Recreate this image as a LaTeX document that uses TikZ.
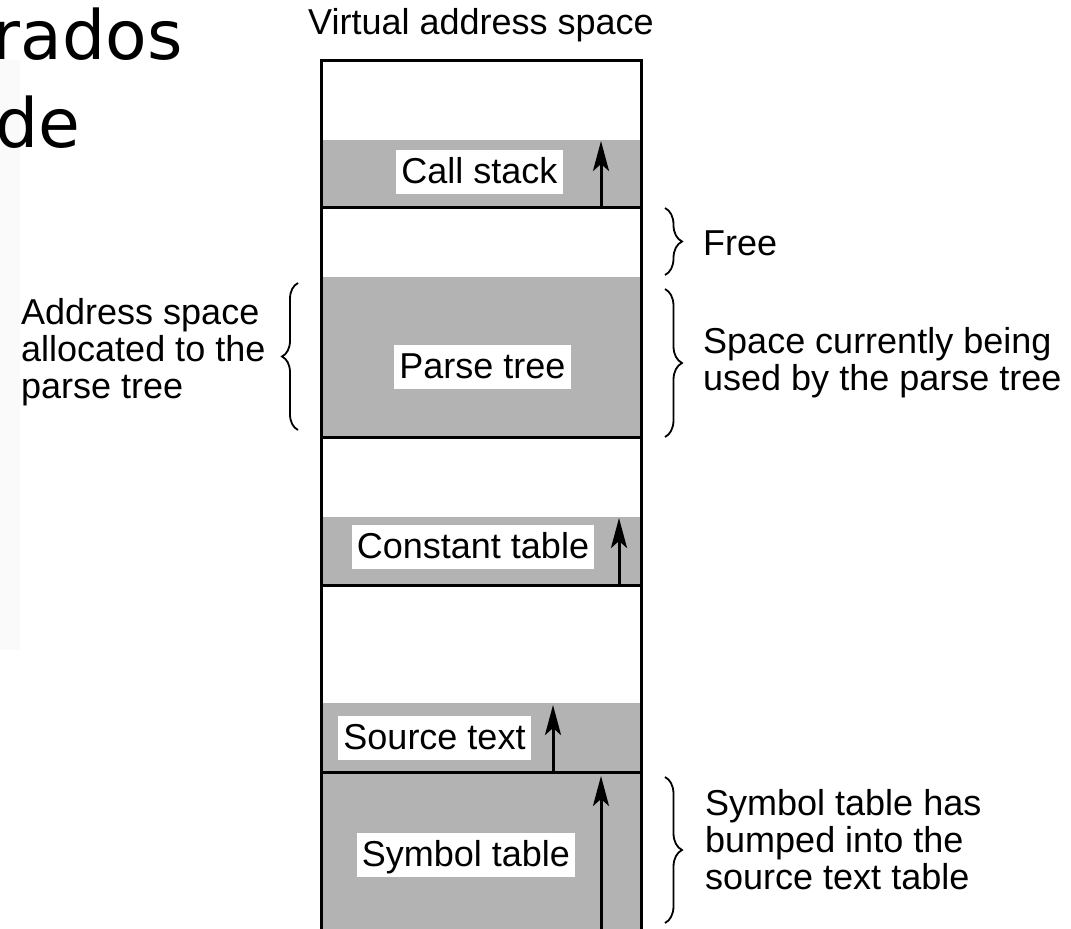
\documentclass[tikz,border=0pt]{standalone}
\usepackage{fontspec}
\setmainfont{Liberation Sans}
\newfontfamily\slidefont{DejaVu Sans}
\usetikzlibrary{arrows.meta,decorations.pathreplacing}
\definecolor{memgray}{RGB}{179,179,179}
\definecolor{stripgray}{RGB}{250,250,250}
\begin{document}
\begin{tikzpicture}[x=1pt,y=-1pt,
  lbl/.style={font=\fontsize{36}{37}\selectfont, inner sep=0pt},
  seglabel/.style={font=\fontsize{36}{37}\selectfont, fill=white, inner xsep=5pt, inner ysep=4.5pt, text height=29pt, text depth=6pt},
  frameline/.style={line width=3pt},
  growarrow/.style={line width=3pt, -{Stealth[length=30pt,width=16pt,inset=7pt]}},
  bracer/.style={decorate, decoration={brace, amplitude=17pt}, line width=1.8pt},
  slidetext/.style={font=\slidefont\fontsize{68}{85}\selectfont, inner sep=0pt, anchor=base east},
]
\useasboundingbox (0,0) rectangle (1071,929);
\fill[stripgray] (0,60) rectangle (20,650);

% slide text (cut off)
\node[slidetext] (sl1) at (183,59) {rados};
\node[slidetext] (sl2) at (81,147) {de};

% title
\node[lbl] (title) at (481,25) {Virtual address space};

% gray segments
\fill[memgray] (321,140) rectangle (641,207);
\fill[memgray] (321,277) rectangle (641,437);
\fill[memgray] (321,517) rectangle (641,585);
\fill[memgray] (321,703) rectangle (641,772);
\fill[memgray] (321,772) rectangle (641,929);

% frame
\draw[frameline] (321,929) -- (321,60) -- (641,60) -- (641,929);
\draw[frameline] (321,207) -- (641,207);
\draw[frameline] (321,437) -- (641,437);
\draw[frameline] (321,585) -- (641,585);
\draw[frameline] (321,772) -- (641,772);

% growth arrows
\coordinate (cs0) at (601,207); \coordinate (cs1) at (601,141);
\coordinate (ct0) at (619,585); \coordinate (ct1) at (619,518);
\coordinate (st0) at (553,772); \coordinate (st1) at (553,705);
\coordinate (sy0) at (601,929); \coordinate (sy1) at (601,776);
\draw[growarrow] (cs0) -- (cs1);
\draw[growarrow] (ct0) -- (ct1);
\draw[growarrow] (st0) -- (st1);
\draw[growarrow] (sy0) -- (sy1);

% segment labels
\node[seglabel] (cs) at (479.5,171.5) {Call stack};
\node[seglabel] (pt) at (482.5,367) {Parse tree};
\node[seglabel] (ct) at (473,547) {Constant table};
\node[seglabel] (st) at (434.5,737.5) {Source text};
\node[seglabel] (sy) at (466,854.5) {Symbol table};

% braces
\coordinate (fb0) at (665,208); \coordinate (fb1) at (665,275);
\coordinate (ub0) at (665,289); \coordinate (ub1) at (665,437);
\coordinate (sb0) at (665,777); \coordinate (sb1) at (665,923);
\coordinate (ab0) at (298,430); \coordinate (ab1) at (298,283);
\draw[bracer] (fb0) -- (fb1);
\draw[bracer] (ub0) -- (ub1);
\draw[bracer] (sb0) -- (sb1);
\draw[bracer, decoration={brace, amplitude=16pt}] (ab0) -- (ab1);

% annotations
\node[lbl, anchor=west, align=left] (alloc) at (21,352) {Address space\\allocated to the\\parse tree};
\node[lbl, anchor=west] (free) at (703,243) {Free};
\node[lbl, anchor=west, align=left] (used) at (703,363) {Space currently being\\used by the parse tree};
\node[lbl, anchor=west, align=left] (bump) at (705,840) {Symbol table has\\bumped into the\\source text table};
\end{tikzpicture}
\end{document}
